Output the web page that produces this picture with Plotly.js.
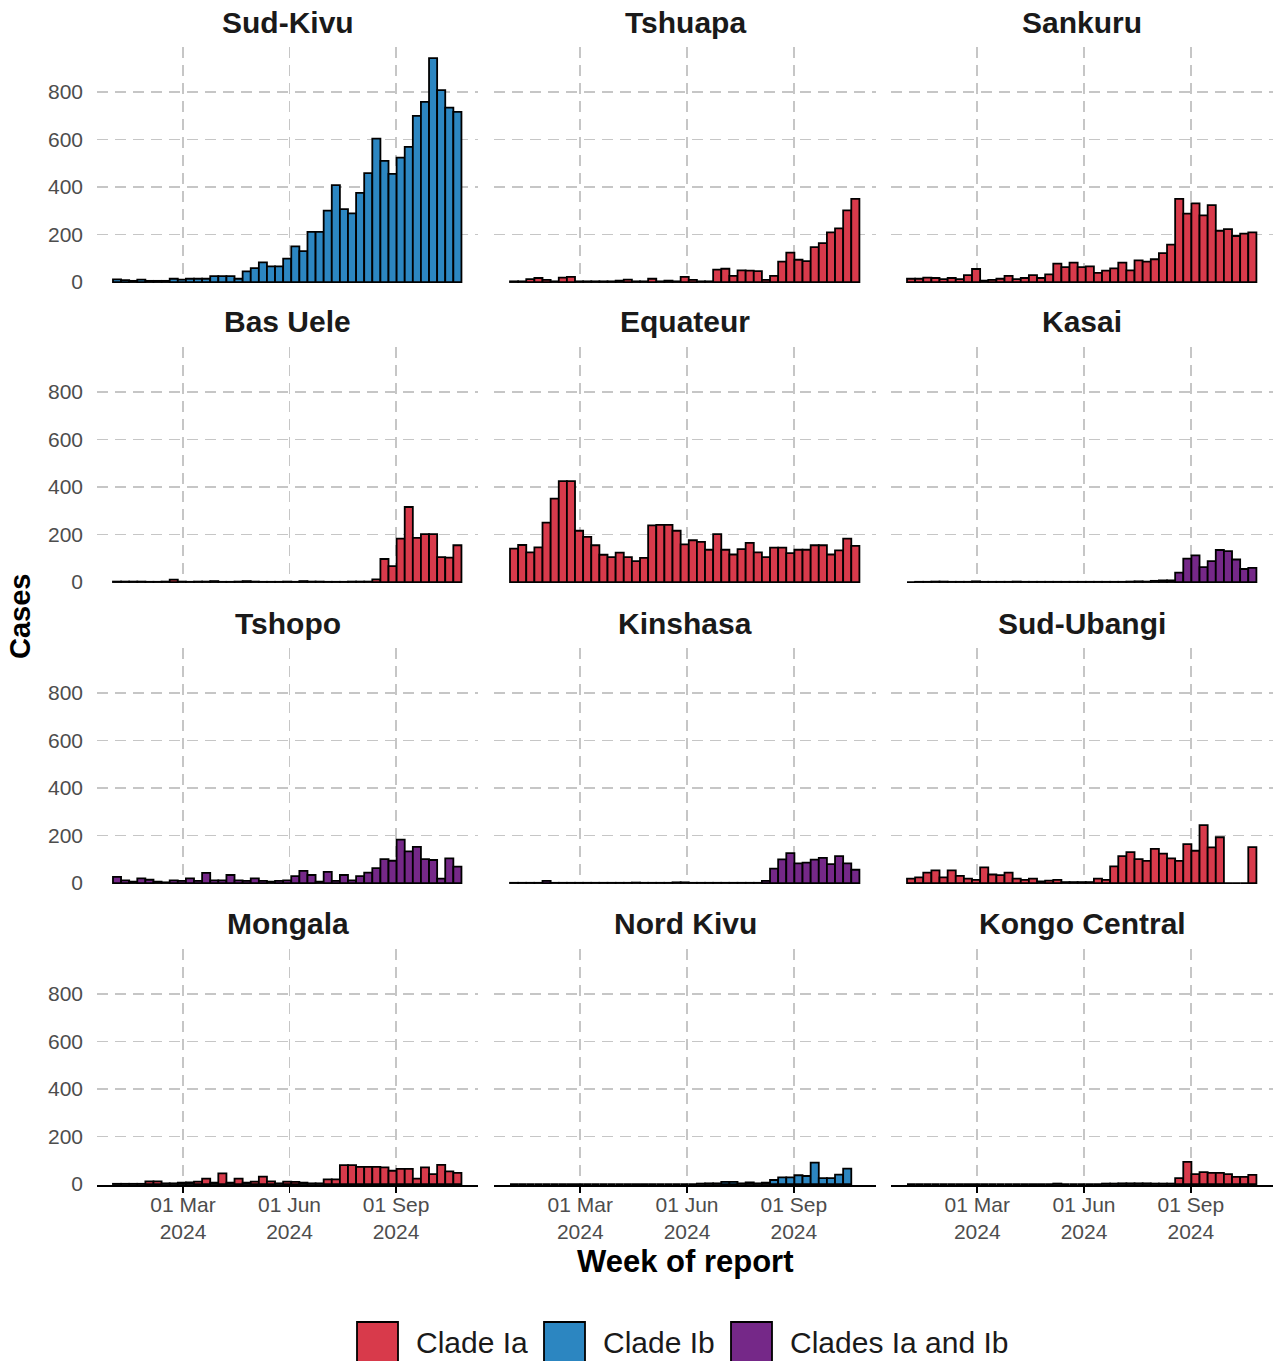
<!DOCTYPE html>
<html>
<head>
<meta charset="utf-8">
<script src="https://cdn.plot.ly/plotly-3.0.1.min.js"></script>
<style>html,body{margin:0;padding:0;background:#fff;}#chart{width:1276px;height:1361px;}</style>
</head>
<body>
<div id="chart"></div>
<script>
// ---- data ----
const weeks = ['2024-01-04','2024-01-11','2024-01-18','2024-01-25','2024-02-01','2024-02-08','2024-02-15','2024-02-22','2024-02-29',
 '2024-03-07','2024-03-14','2024-03-21','2024-03-28','2024-04-04','2024-04-11','2024-04-18','2024-04-25',
 '2024-05-02','2024-05-09','2024-05-16','2024-05-23','2024-05-30','2024-06-06','2024-06-13','2024-06-20','2024-06-27',
 '2024-07-04','2024-07-11','2024-07-18','2024-07-25','2024-08-01','2024-08-08','2024-08-15','2024-08-22','2024-08-29',
 '2024-09-05','2024-09-12','2024-09-19','2024-09-26','2024-10-03','2024-10-10','2024-10-17','2024-10-24'];

const sudKivu = [11,8,5,10,5,5,5,14,10,14,14,14,25,25,25,14,45,59,83,66,66,99,150,130,211,211,301,408,307,289,376,459,604,510,456,524,569,700,759,943,808,735,717];
const tshuapa = [3,3,12,17,9,3,19,22,3,3,3,3,3,6,10,3,3,14,3,6,3,22,9,3,3,52,56,26,49,48,46,9,26,86,124,94,88,147,164,209,226,302,350];
const sankuru = [14,14,19,17,12,17,12,29,55,6,9,14,26,12,17,29,17,32,78,63,82,63,66,39,48,58,82,49,91,86,96,122,158,350,288,331,281,324,216,223,194,204,209];
const basUele = [2,2,2,2,1,1,2,10,2,1,2,2,4,1,1,2,4,2,1,1,1,2,1,4,2,2,1,1,1,2,2,2,11,97,67,183,316,186,202,202,105,103,155];
const equateur = [141,156,125,146,250,351,425,425,216,190,155,115,105,124,105,88,102,239,241,241,216,159,176,169,136,202,136,116,139,165,125,105,145,145,122,136,136,155,155,116,133,183,152];
const kasai = [0,1,1,2,2,1,1,1,3,1,1,1,1,2,1,1,1,1,1,1,1,1,1,1,1,1,1,2,3,2,5,7,7,40,99,112,63,88,135,130,95,55,60];
const tshopo = [26,11,6,20,14,6,3,11,9,20,9,43,11,11,34,11,9,20,9,6,9,11,29,51,34,6,47,9,34,11,29,44,63,101,94,183,133,152,101,97,19,104,69];
const kinshasa = [1,1,1,1,9,1,1,1,1,1,1,1,1,1,1,2,1,1,1,1,3,3,1,1,1,1,1,1,1,1,1,9,61,100,126,83,86,99,106,80,113,83,56];
const sudUbangi = [19,24,44,53,24,53,30,19,13,66,36,33,44,19,13,19,7,10,13,4,4,4,4,19,13,70,113,130,101,93,144,124,104,93,164,136,244,150,193,0,0,0,151];
const mongala = [1,1,1,1,11,11,3,3,6,7,10,23,6,45,6,23,6,10,31,11,3,10,9,6,3,3,20,20,80,80,72,72,72,70,56,64,64,23,70,42,81,53,47];
const nordKivu = [0,0,0,0,0,0,0,0,0,0,0,0,0,0,0,0,0,0,0,0,0,0,0,2,3,3,9,9,3,7,3,6,17,28,28,37,34,90,25,25,40,65,null];
const kongoCentral = [0,0,0,0,0,0,0,0,0,0,0,0,0,0,0,0,0,0,2,0,0,0,0,0,2,2,3,3,3,3,2,2,2,25,93,42,50,47,47,42,30,30,39];

const panelNames = ['Sud-Kivu','Tshuapa','Sankuru','Bas Uele','Equateur','Kasai','Tshopo','Kinshasa','Sud-Ubangi','Mongala','Nord Kivu','Kongo Central'];
const panelValues = [sudKivu,tshuapa,sankuru,basUele,equateur,kasai,tshopo,kinshasa,sudUbangi,mongala,nordKivu,kongoCentral];
const panelClades = ['Clade Ib','Clade Ia','Clade Ia','Clade Ia','Clade Ia','Clades Ia and Ib','Clades Ia and Ib','Clades Ia and Ib','Clade Ia','Clade Ia','Clade Ib','Clade Ia'];
const cladeNames = ['Clade Ia','Clade Ib','Clades Ia and Ib'];
const cladeColors = {'Clade Ia':'#d83a4b','Clade Ib':'#2c86c1','Clades Ia and Ib':'#752888'};
const xTickVals = ['2024-03-01','2024-06-01','2024-09-01'];
const xTickText = ['01 Mar<br>2024','01 Jun<br>2024','01 Sep<br>2024'];
const yTickVals = [0,200,400,600,800];

// ---- layout geometry ----
const W = 1276, H = 1361;
const FONT = 'Liberation Sans, Arial, sans-serif';
const colPx = [[97,478],[494,876],[891,1273]];
const rowTop = [47,347,648,949], rowBot = [283,583,884,1185];
const WEEK_MS = 7*24*3600*1000;
const px = v => v / W, py = v => 1 - v / H;

const traces = [];
const layout = {
  width: W, height: H,
  margin: {l:0, r:0, t:0, b:0},
  paper_bgcolor: '#fff', plot_bgcolor: '#fff',
  showlegend: false,
  font: {family: FONT},
  annotations: [], shapes: []
};

panelNames.forEach((name, i) => {
  const r = Math.floor(i/3), c = i % 3, n = i + 1;
  const xa = n === 1 ? 'x' : 'x' + n;
  const ya = n === 1 ? 'y' : 'y' + n;
  traces.push({
    type: 'bar', x: weeks, y: panelValues[i], xaxis: xa, yaxis: ya,
    width: WEEK_MS, name: panelClades[i],
    marker: {color: cladeColors[panelClades[i]], line: {color: '#000', width: 1.8}},
    hovertemplate: name + '<br>%{x}: %{y}<extra></extra>'
  });
  layout['xaxis' + (n === 1 ? '' : n)] = {
    domain: [px(colPx[c][0]), px(colPx[c][1])], anchor: ya, type: 'date',
    range: ['2023-12-17 17:00', '2024-11-10 19:00'],
    tickmode: 'array', tickvals: xTickVals, ticktext: xTickText,
    showticklabels: r === 3, ticks: r === 3 ? 'outside' : '', ticklen: 6, tickwidth: 1.5, tickcolor: '#000',
    ticklabelstandoff: -6,
    tickfont: {family: FONT, size: 21, color: '#4d4d4d'},
    showgrid: true, gridcolor: '#c6c6c6', gridwidth: 1.5, griddash: '11px,7px',
    zeroline: false, showline: r === 3, linecolor: '#000', linewidth: 1.8,
    fixedrange: true
  };
  layout['yaxis' + (n === 1 ? '' : n)] = {
    domain: [py(rowBot[r]), py(rowTop[r])], anchor: xa,
    range: [-4, 990], tickmode: 'array', tickvals: yTickVals,
    showticklabels: c === 0, ticks: '', ticklabelstandoff: 13,
    tickfont: {family: FONT, size: 21, color: '#4d4d4d'},
    showgrid: true, gridcolor: '#c6c6c6', gridwidth: 1.5, griddash: '11px,7px',
    zeroline: false, showline: false, fixedrange: true
  };
  layout.annotations.push({
    text: '<b>' + name + '</b>', xref: 'paper', yref: 'paper',
    x: px((colPx[c][0] + colPx[c][1]) / 2), y: py(rowTop[r] - 25),
    xanchor: 'center', yanchor: 'middle', showarrow: false,
    font: {family: FONT, size: 30, color: '#1a1a1a'}
  });
});

// axis titles
layout.annotations.push({
  text: '<b>Cases</b>', xref: 'paper', yref: 'paper', x: px(20), y: py(616),
  xanchor: 'center', yanchor: 'middle', textangle: -90, showarrow: false,
  font: {family: FONT, size: 29, color: '#000'}
});
layout.annotations.push({
  text: '<b>Week of report</b>', xref: 'paper', yref: 'paper', x: px(685), y: py(1261),
  xanchor: 'center', yanchor: 'middle', showarrow: false,
  font: {family: FONT, size: 31, color: '#000'}
});

// legend (drawn as shapes + text)
const legendSwatchX = [357, 544, 731];
cladeNames.forEach((cl, k) => {
  const x0 = legendSwatchX[k];
  layout.shapes.push({
    type: 'rect', xref: 'paper', yref: 'paper',
    x0: px(x0), x1: px(x0 + 41), y0: py(1322), y1: py(1366),
    fillcolor: cladeColors[cl], line: {color: '#000', width: 1.8}
  });
  layout.annotations.push({
    text: cl, xref: 'paper', yref: 'paper', x: px(x0 + 57), y: py(1342),
    xanchor: 'left', yanchor: 'middle', showarrow: false,
    font: {family: FONT, size: 30, color: '#1a1a1a'}
  });
});

Plotly.newPlot('chart', traces, layout, {staticPlot: true, displayModeBar: false});
</script>
</body>
</html>
